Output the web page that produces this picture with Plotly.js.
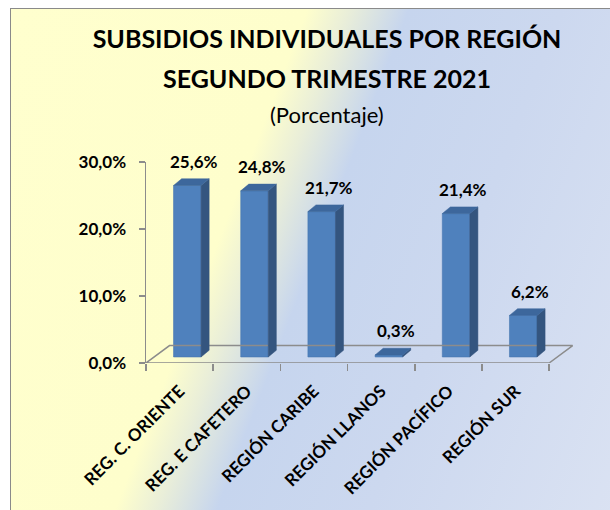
<!DOCTYPE html>
<html>
<head>
<meta charset="utf-8">
<script src="https://cdn.plot.ly/plotly-3.0.1.min.js"></script>
<style>
  html, body { margin: 0; padding: 0; background: #ffffff; }
  #wrap { position: relative; width: 610px; height: 510px; overflow: hidden; background: #ffffff; }
  #bg { position: absolute; left: 10px; top: 8px; width: 640px; height: 540px;
        border-left: 1.5px solid #8a8a8a; border-top: 1.5px solid #8a8a8a;
        background: linear-gradient(111deg, #FFFFCE 0%, #FEFECC 35%, #E9EED9 40%, #C6D5EE 47%, #CCD8EF 65%, #DDE4F3 100%); }
  #chart { position: absolute; left: 0; top: 0; width: 610px; height: 510px; }
</style>
</head>
<body>
<div id="wrap">
  <div id="bg"></div>
  <div id="chart"></div>
</div>
<script>
// ---- data ----
const categories = ["REG. C. ORIENTE", "REG. E CAFETERO", "REGIÓN CARIBE", "REGIÓN LLANOS", "REGIÓN PACÍFICO", "REGIÓN SUR"];
const values = [25.6, 24.8, 21.7, 0.3, 21.4, 6.2];
const yTickVals = [0, 10, 20, 30];
const yTickText = ["0,0%", "10,0%", "20,0%", "30,0%"];
const titleLine1 = "SUBSIDIOS INDIVIDUALES POR REGIÓN";
const titleLine2 = "SEGUNDO TRIMESTRE 2021";
const subtitle = "(Porcentaje)";

// ---- 3D styling parameters ----
const BASE = 0.9;       // bar base lift (in axis units)
const OFF = -0.09;      // bar front-face offset
const W = 0.41;         // bar front-face width
const DX = 0.12;        // depth x
const DY = 1.0;         // depth y
const FDX = 0.35, FDY = 2.6; // floor depth

const xs = categories.map((c, i) => i);

// side faces & top faces built from values
const sideX = [], sideY = [], topX = [], topY = [];
values.forEach((v, i) => {
  const xl = i + OFF, xr = i + OFF + W;
  sideX.push(xr, xr + DX, xr + DX, xr, xr, null);
  sideY.push(BASE, BASE + DY, BASE + v + DY, BASE + v, BASE, null);
  topX.push(xl, xr, xr + DX, xl + DX, xl, null);
  topY.push(BASE + v, BASE + v, BASE + v + DY, BASE + v + DY, BASE + v, null);
});

const n = categories.length;
const floor = {
  x: [-0.5, n - 0.5, n - 0.5 + FDX, -0.5 + FDX, -0.5],
  y: [0, 0, FDY, FDY, 0],
  type: 'scatter', mode: 'lines', cliponaxis: false,
  line: { color: '#8c8c8c', width: 1.5 }, hoverinfo: 'skip', showlegend: false
};

const bars = {
  x: xs, y: values, base: BASE, type: 'bar', width: W, offset: OFF,
  marker: { color: '#4F81BD', line: { color: '#4877B0', width: 0.6 } },
  hoverinfo: 'skip', showlegend: false
};
const sides = {
  x: sideX, y: sideY, type: 'scatter', mode: 'lines', fill: 'toself',
  fillcolor: '#34557F', line: { color: '#34557F', width: 0.5 },
  hoverinfo: 'skip', showlegend: false, cliponaxis: false
};
const tops = {
  x: topX, y: topY, type: 'scatter', mode: 'lines', fill: 'toself',
  fillcolor: '#3D679C', line: { color: '#3D679C', width: 0.5 },
  hoverinfo: 'skip', showlegend: false, cliponaxis: false
};
// boundary ticks helper trace on xaxis2
const tickHelper = { x: [0], y: [0], xaxis: 'x2', type: 'scatter', mode: 'none', hoverinfo: 'skip', showlegend: false };

const annotations = values.map((v, i) => ({
  x: i + 0.22, y: BASE + v + DY, xref: 'x', yref: 'y',
  text: v.toFixed(1).replace('.', ',') + '%',
  showarrow: false, yanchor: 'bottom', yshift: 5,
  font: { family: 'Lato', size: 17, color: '#000000', weight: 700 }
}));
annotations.push({
  xref: 'paper', yref: 'paper', x: 0.421, y: (363 - 77.5) / 201, yanchor: 'middle', xanchor: 'center',
  text: titleLine2, showarrow: false,
  font: { family: 'Lato', size: 25, color: '#000000', weight: 700 }
});
annotations.push({
  xref: 'paper', yref: 'paper', x: 0.421, y: (363 - 114) / 201, yanchor: 'middle', xanchor: 'center',
  text: subtitle, showarrow: false,
  font: { family: 'Lato', size: 22, color: '#000000' }
});

const xr = [-0.5, n - 0.5 + 0.4];
const layout = {
  width: 610, height: 510,
  paper_bgcolor: 'rgba(0,0,0,0)', plot_bgcolor: 'rgba(0,0,0,0)',
  margin: { l: 146, r: 34, t: 162, b: 147 },
  title: {
    text: titleLine1, x: 327 / 610, xref: 'container', xanchor: 'center',
    y: 1 - 39 / 510, yref: 'container', yanchor: 'middle',
    font: { family: 'Lato', size: 25, color: '#000000', weight: 700 }
  },
  xaxis: {
    range: xr, tickvals: xs, ticktext: categories, tickangle: -45,
    ticks: '', showline: false, showgrid: false, zeroline: false,
    ticklabelstandoff: 14,
    tickfont: { family: 'Lato', size: 17, color: '#000000', weight: 700 }
  },
  xaxis2: {
    range: xr, overlaying: 'x', anchor: 'y', side: 'bottom',
    tickvals: categories.map((c, i) => i - 0.5).concat([n - 0.5]),
    ticks: 'outside', ticklen: 7, tickcolor: '#8c8c8c', tickwidth: 1.5,
    showticklabels: false, showline: false, showgrid: false, zeroline: false
  },
  yaxis: {
    range: [0, 30], tickvals: yTickVals, ticktext: yTickText,
    showline: true, linecolor: '#8c8c8c', linewidth: 1.5,
    ticks: 'outside', ticklen: 6, tickcolor: '#8c8c8c', tickwidth: 1.5,
    showgrid: false, zeroline: false, ticklabelstandoff: 9,
    tickfont: { family: 'Lato', size: 17, color: '#000000', weight: 700 }
  },
  annotations: annotations,
  showlegend: false
};

Plotly.newPlot('chart', [floor, bars, sides, tops, tickHelper], layout, { displayModeBar: false, staticPlot: true });
</script>
</body>
</html>
